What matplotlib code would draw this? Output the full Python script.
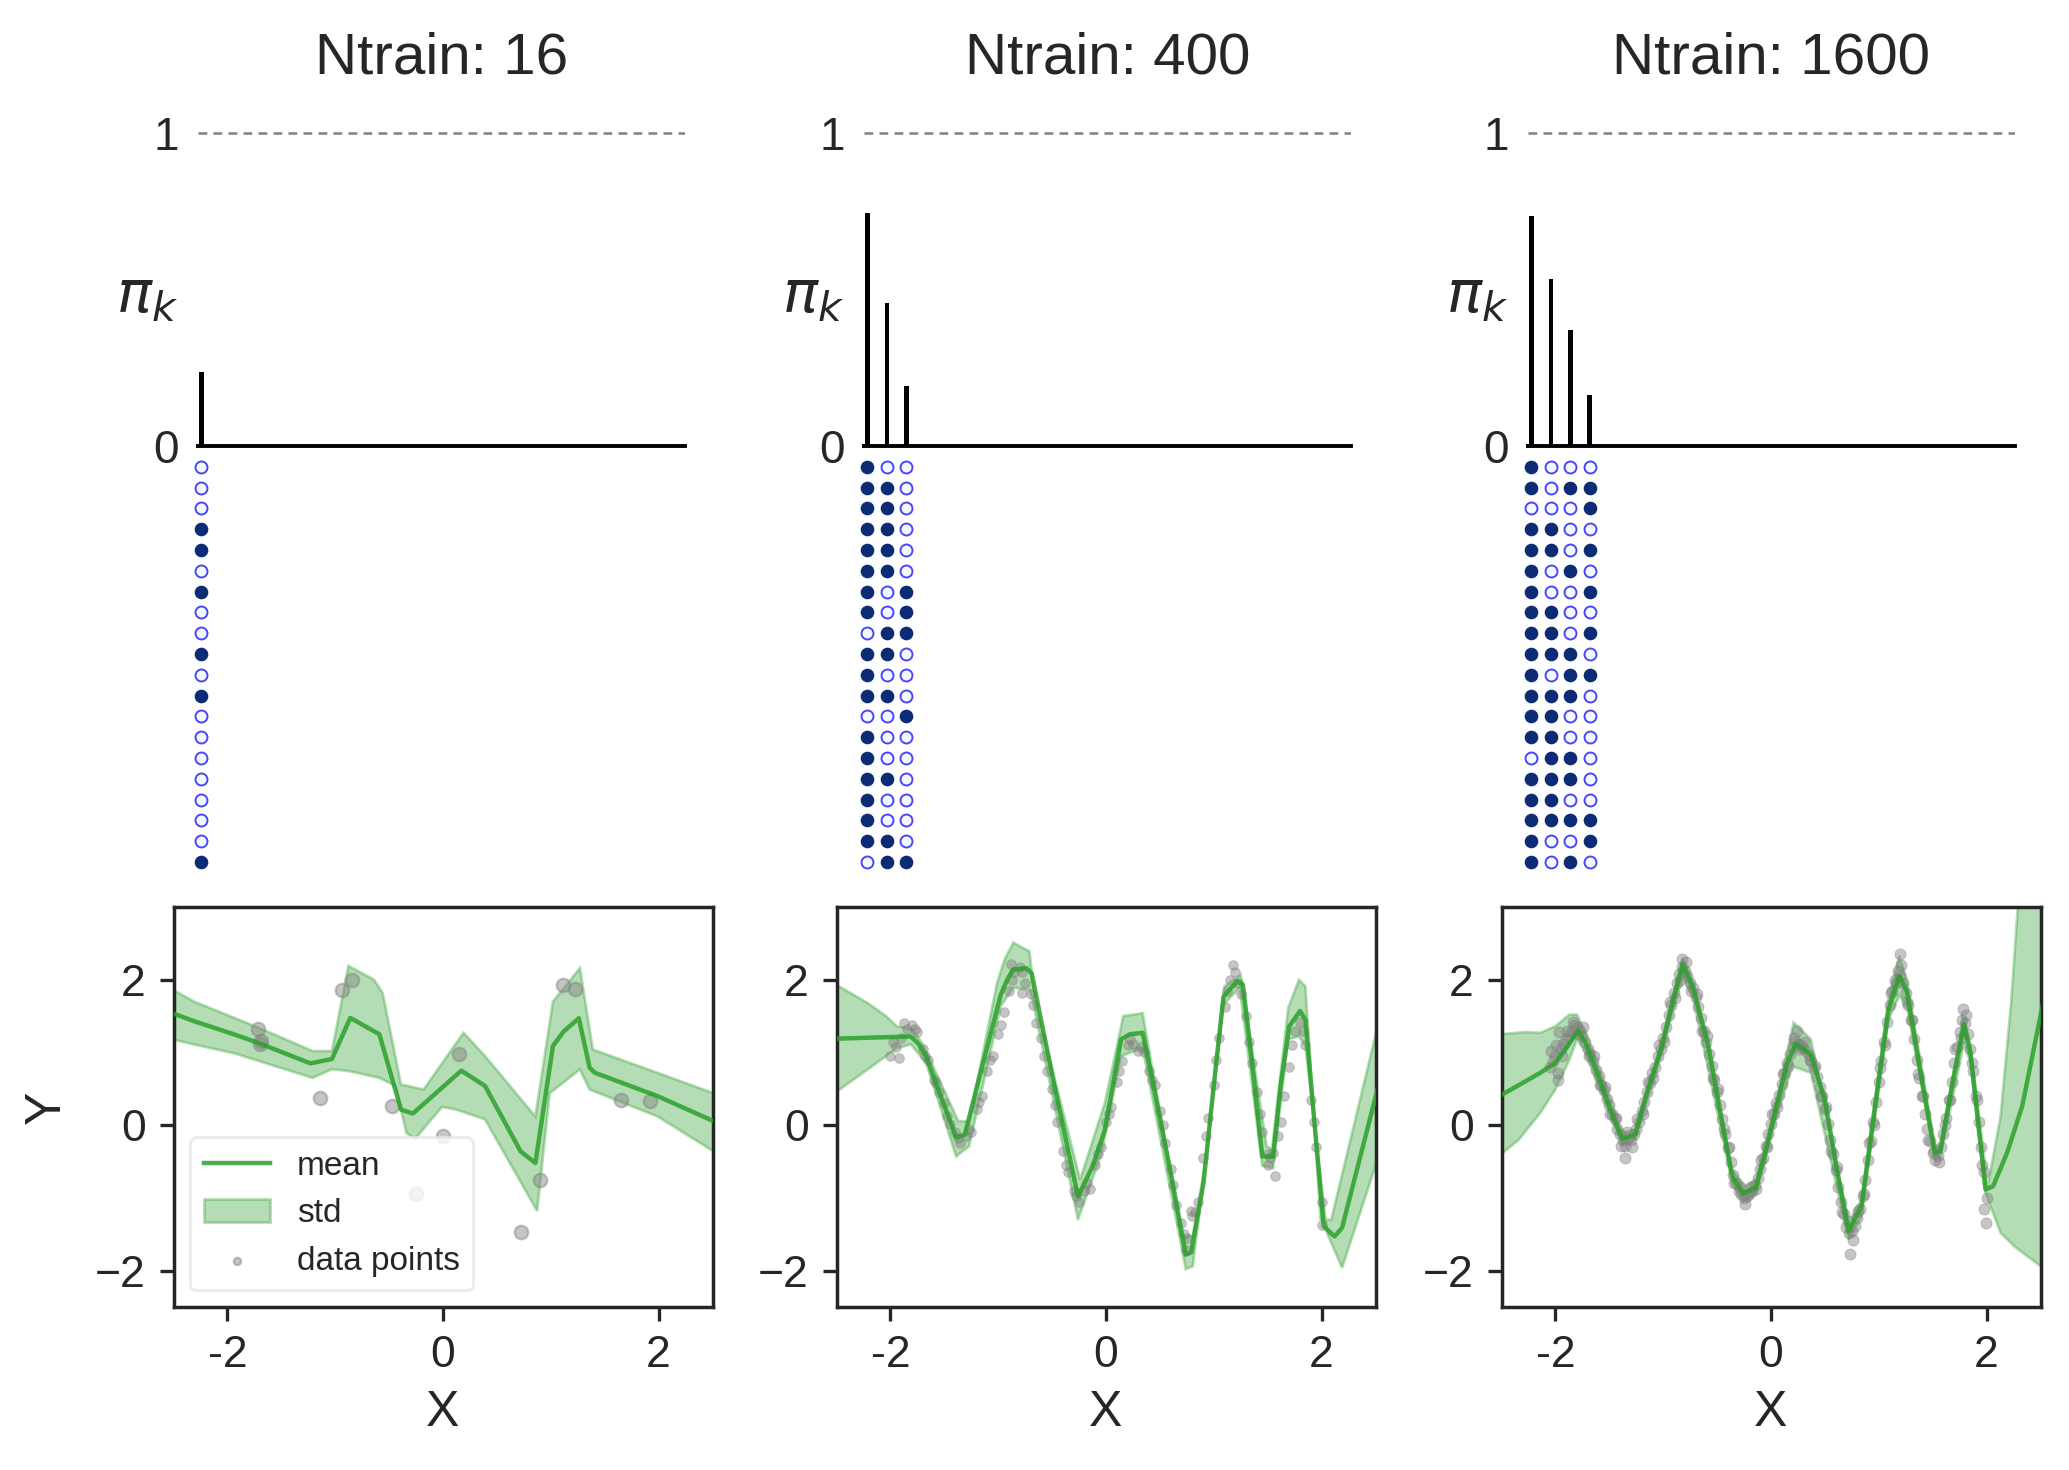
import matplotlib.pyplot as plt
import numpy as np

plt.rcParams['font.family'] = ['Liberation Sans', 'DejaVu Sans']
plt.rcParams['mathtext.fontset'] = 'dejavusans'
plt.rcParams['text.color'] = '#262626'
plt.rcParams['axes.labelcolor'] = '#262626'
plt.rcParams['xtick.color'] = '#262626'
plt.rcParams['ytick.color'] = '#262626'

# ---- data ----
titles = ['Ntrain: 16', 'Ntrain: 400', 'Ntrain: 1600']

# mixture weights pi_k
pi_16 = [0.234]
pi_400 = [0.742, 0.456, 0.191]
pi_1600 = [0.734, 0.534, 0.370, 0.162]

# component activity per row (1 = filled dot)
act_16 = ['0', '0', '0', '1', '1', '0', '1', '0', '0', '1',
          '0', '1', '0', '0', '0', '0', '0', '0', '0', '1']
act_400 = ['100', '110', '110', '110', '110', '110', '101', '101', '011', '110',
           '100', '110', '001', '100', '100', '110', '100', '100', '110', '011']
act_1600 = ['1000', '1011', '0001', '1100', '1101', '1010', '1001', '1100', '1101', '1110',
            '1011', '1110', '1100', '1100', '0110', '1110', '1100', '1111', '1001', '1010']

# Ntrain 16
p1_mean_x = [-2.51, -2.31, -1.94, -1.71, -1.23, -1.03, -0.86, -0.59, -0.39, -0.28, 0.17,
             0.39, 0.72, 0.857, 1.02, 1.12, 1.26, 1.36, 1.41, 1.99, 2.51]
p1_mean_y = [1.54, 1.43, 1.25, 1.13, 0.85, 0.91, 1.475, 1.25, 0.215, 0.16, 0.75,
             0.54, -0.36, -0.52, 1.09, 1.29, 1.47, 0.79, 0.72, 0.40, 0.055]
p1_up_x = [-2.51, -2.31, -1.71, -1.21, -1.03, -0.877, -0.64, -0.56, -0.39, -0.18, 0.19,
           0.39, 0.857, 1.02, 1.27, 1.39, 1.99, 2.51]
p1_up_y = [1.865, 1.70, 1.34, 1.02, 1.02, 2.19, 2.0, 1.82, 0.56, 0.49, 1.27,
           0.95, 0.12, 1.70, 2.16, 1.04, 0.72, 0.44]
p1_lo_x = [-2.51, -2.31, -1.94, -1.21, -1.03, -0.86, -0.59, -0.44, -0.34, -0.26, -0.01,
           0.12, 0.39, 0.873, 0.99, 1.27, 1.36, 1.99, 2.51]
p1_lo_y = [1.18, 1.11, 0.99, 0.65, 0.77, 0.74, 0.65, 0.54, -0.105, -0.19, 0.25,
           0.215, 0.08, -1.18, 0.44, 0.765, 0.49, 0.12, -0.36]
p1_pts_x = [-1.72, -1.70, -1.69, -1.143, -0.937, -0.843, -0.477, -0.253, 0.0, 0.15,
            0.723, 0.897, 1.117, 1.223, 1.647, 1.923]
p1_pts_y = [1.32, 1.12, 1.16, 0.367, 1.856, 2.0, 0.27, -0.953, -0.142, 0.985,
            -1.466, -0.747, 1.934, 1.874, 0.353, 0.339]

# Ntrain 400
p2_mean_x = [-2.49, -1.81, -1.74, -1.67, -1.52, -1.39, -1.31, -1.15, -0.975, -0.91, -0.86,
             -0.74, -0.69, -0.48, -0.26, -0.12, -0.01, 0.14, 0.22, 0.34, 0.42, 0.60,
             0.74, 0.79, 0.905, 1.00, 1.09, 1.22, 1.27, 1.36, 1.45, 1.55, 1.62, 1.70,
             1.80, 1.85, 1.93, 2.02, 2.12, 2.19, 2.52]
p2_mean_y = [1.19, 1.22, 1.12, 0.95, 0.35, -0.17, -0.13, 0.80, 1.80, 2.02, 2.14,
             2.16, 2.09, 0.55, -0.98, -0.55, -0.06, 1.18, 1.25, 1.27, 0.70, -0.65,
             -1.78, -1.75, -0.79, 0.55, 1.77, 1.98, 1.93, 0.80, -0.43, -0.43, 0.55, 1.36,
             1.57, 1.45, 0.10, -1.39, -1.53, -1.41, 0.50]
p2_up_x = [-2.49, -2.21, -2.04, -1.94, -1.79, -1.69, -1.37, -1.27, -1.01, -0.94, -0.86,
           -0.71, -0.66, -0.24, -0.01, 0.16, 0.34, 0.705, 0.805, 0.92, 1.10, 1.25, 1.49,
           1.54, 1.69, 1.79, 1.85, 1.99, 2.09, 2.52]
p2_up_y = [1.92, 1.68, 1.50, 1.36, 1.31, 1.09, 0.055, 0.055, 1.96, 2.28, 2.51,
           2.39, 1.73, -0.75, 0.31, 1.50, 1.54, -1.53, -1.53, -0.52, 1.91, 2.07, -0.29,
           -0.33, 1.61, 2.0, 1.91, -1.30, -1.30, 1.36]
p2_lo_x = [-2.49, -2.17, -1.94, -1.81, -1.67, -1.39, -1.27, -0.975, -0.86, -0.71, -0.675,
           -0.26, -0.04, 0.14, 0.34, 0.74, 0.805, 0.89, 1.09, 1.24, 1.45, 1.55, 1.69,
           1.79, 1.85, 2.05, 2.19, 2.52]
p2_lo_y = [0.47, 0.81, 1.06, 1.11, 0.86, -0.43, -0.29, 1.64, 1.89, 1.86, 1.68,
           -1.30, -0.38, 0.95, 1.06, -1.98, -1.94, -0.93, 1.66, 1.89, -0.56, -0.59, 1.18,
           1.22, 1.09, -1.48, -1.96, -0.47]
p2_pts_x = [-2.00, -1.95, -1.90, -1.85, -1.80, -1.75, -1.70, -1.65, -1.60, -1.55,
            -1.50, -1.45, -1.40, -1.35, -1.30, -1.25, -1.20, -1.15, -1.10, -1.05,
            -1.00, -0.95, -0.90, -0.85, -0.80, -0.75, -0.70, -0.65, -0.60, -0.55,
            -0.50, -0.45, -0.40, -0.35, -0.30, -0.25, -0.20, -0.15, -0.10, -0.05,
            0.00, 0.05, 0.10, 0.15, 0.20, 0.25, 0.30, 0.35, 0.40, 0.45,
            0.50, 0.55, 0.60, 0.65, 0.70, 0.75, 0.80, 0.85, 0.90, 0.95,
            1.00, 1.05, 1.10, 1.15, 1.20, 1.25, 1.30, 1.35, 1.40, 1.45,
            1.50, 1.55, 1.60, 1.65, 1.70, 1.75, 1.80, 1.85, 1.90, 1.95,
            2.00, 1.57, 2.00, 0.79, -1.92, -0.78, 0.74, 1.18, -0.88, 1.50,
            -1.975, -1.875, -1.775, -1.675, -1.575, -1.475, -1.375, -1.275, -1.175, -1.075,
            -0.975, -0.875, -0.775, -0.675, -0.575, -0.475, -0.375, -0.275, -0.175, -0.075,
            0.025, 0.125, 0.225, 0.325, 0.425, 0.525, 0.625, 0.725, 0.825, 0.925,
            1.025, 1.125, 1.225, 1.325, 1.425, 1.525, 1.625, 1.725, 1.825, 1.925]
p2_pts_y = [0.95, 1.08, 1.20, 1.32, 1.38, 1.28, 1.05, 0.90, 0.62, 0.45,
            0.30, 0.02, -0.10, -0.25, -0.15, -0.10, 0.22, 0.40, 0.75, 0.95,
            1.25, 1.55, 1.85, 2.10, 2.18, 1.95, 1.80, 1.40, 1.20, 0.75,
            0.50, 0.05, -0.35, -0.65, -0.90, -1.05, -0.90, -0.88, -0.55, -0.30,
            0.05, 0.25, 0.60, 0.88, 1.10, 1.12, 1.02, 1.00, 0.75, 0.55,
            0.20, -0.25, -0.60, -1.10, -1.35, -1.55, -1.25, -1.05, -0.45, 0.10,
            0.55, 1.20, 1.62, 2.00, 2.10, 1.80, 1.50, 0.85, 0.45, -0.10,
            -0.40, -0.38, -0.15, 0.40, 0.80, 1.30, 1.42, 1.10, 0.35, -0.30,
            -1.05, -0.70, -1.37, -1.18, 0.92, 1.82, -1.72, 2.20, 2.22, -0.55,
            1.15, 1.40, 1.32, 0.95, 0.58, 0.12, -0.18, -0.05, 0.32, 0.90,
            1.38, 2.00, 2.10, 1.65, 0.95, 0.28, -0.55, -0.98, -0.80, -0.40,
            0.15, 0.75, 1.18, 1.08, 0.62, 0.00, -0.82, -1.50, -1.20, -0.15,
            0.90, 1.85, 1.95, 1.15, 0.15, -0.45, 0.05, 1.10, 1.30, 0.05]

# Ntrain 1600
p3_mean_x = [-2.52, -2.40, -2.27, -2.14, -2.00, -1.90, -1.79, -1.72, -1.60, -1.50, -1.38,
             -1.26, -1.15, -1.02, -0.92, -0.82, -0.72, -0.58, -0.46, -0.36, -0.26, -0.14,
             -0.04, 0.06, 0.15, 0.23, 0.37, 0.50, 0.61, 0.72, 0.84, 0.96, 1.09, 1.19,
             1.26, 1.39, 1.52, 1.57, 1.68, 1.79, 1.85, 1.99, 2.06, 2.19, 2.33, 2.52]
p3_mean_y = [0.40, 0.50, 0.61, 0.72, 0.86, 1.06, 1.30, 1.13, 0.67, 0.25, -0.19,
             -0.13, 0.45, 1.04, 1.65, 2.21, 1.87, 1.09, 0.10, -0.70, -0.94, -0.86,
             -0.30, 0.31, 0.85, 1.12, 0.97, 0.35, -0.60, -1.46, -1.11, 0.20, 1.59, 2.06,
             1.84, 0.70, -0.38, -0.36, 0.55, 1.39, 1.0, -0.885, -0.84, -0.38, 0.26, 1.65]
p3_up_x = [-2.52, -2.27, -2.14, -2.00, -1.87, -1.80, -1.72, -1.60, -1.38, -1.26, -1.02,
           -0.82, -0.72, -0.36, -0.24, -0.14, 0.06, 0.21, 0.37, 0.72, 0.84, 1.09,
           1.19, 1.26, 1.52, 1.57, 1.79, 1.85, 2.01, 2.13, 2.23, 2.29, 2.52]
p3_up_y = [1.25, 1.28, 1.27, 1.36, 1.52, 1.52, 1.27, 0.81, -0.105, -0.06, 1.13,
           2.30, 1.98, -0.61, -0.84, -0.75, 0.40, 1.41, 1.18, -1.34, -1.02, 1.73,
           2.33, 2.0, -0.29, -0.27, 1.50, 1.09, -0.84, 0.12, 1.73, 3.01, 5.4]
p3_lo_x = [-2.52, -2.34, -2.14, -2.00, -1.87, -1.80, -1.72, -1.60, -1.38, -1.26, -1.02,
           -0.82, -0.72, -0.36, -0.26, -0.14, 0.06, 0.20, 0.37, 0.72, 0.84, 1.09,
           1.19, 1.26, 1.52, 1.57, 1.79, 1.85, 1.99, 2.13, 2.26, 2.52]
p3_lo_y = [-0.42, -0.20, 0.17, 0.49, 0.90, 1.18, 1.0, 0.54, -0.27, -0.20, 0.95,
           2.07, 1.73, -0.79, -1.05, -0.95, 0.17, 0.81, 0.72, -1.57, -1.25, 1.45,
           1.78, 1.64, -0.47, -0.45, 1.13, 0.86, -0.93, -1.48, -1.67, -1.96]
p3_pts_x = [-2.050, -2.025, -2.000, -1.975, -1.950, -1.925, -1.900, -1.875, -1.850, -1.825,
            -1.800, -1.775, -1.750, -1.725, -1.700, -1.675, -1.650, -1.625, -1.600, -1.575,
            -1.550, -1.525, -1.500, -1.475, -1.450, -1.425, -1.400, -1.375, -1.350, -1.325,
            -1.300, -1.275, -1.250, -1.225, -1.200, -1.175, -1.150, -1.125, -1.100, -1.075,
            -1.050, -1.025, -1.000, -0.975, -0.950, -0.925, -0.900, -0.875, -0.850, -0.825,
            -0.800, -0.775, -0.750, -0.725, -0.700, -0.675, -0.650, -0.625, -0.600, -0.575,
            -0.550, -0.525, -0.500, -0.475, -0.450, -0.425, -0.400, -0.375, -0.350, -0.325,
            -0.300, -0.275, -0.250, -0.225, -0.200, -0.175, -0.150, -0.125, -0.100, -0.075,
            -0.050, -0.025, 0.000, 0.025, 0.050, 0.075, 0.100, 0.125, 0.150, 0.175,
            0.200, 0.225, 0.250, 0.275, 0.300, 0.325, 0.350, 0.375, 0.400, 0.425,
            0.450, 0.475, 0.500, 0.525, 0.550, 0.575, 0.600, 0.625, 0.650, 0.675,
            0.700, 0.725, 0.750, 0.775, 0.800, 0.825, 0.850, 0.875, 0.900, 0.925,
            0.950, 0.975, 1.000, 1.025, 1.050, 1.075, 1.100, 1.125, 1.150, 1.175,
            1.200, 1.225, 1.250, 1.275, 1.300, 1.325, 1.350, 1.375, 1.400, 1.425,
            1.450, 1.475, 1.500, 1.525, 1.550, 1.575, 1.600, 1.625, 1.650, 1.675,
            1.700, 1.725, 1.750, 1.775, 1.800, 1.825, 1.850, 1.875, 1.900, 1.925,
            1.950, 1.975, 2.000,
            0.73, -1.35, 1.99, 1.20, -0.83, -1.97, -1.98, 0.24, 1.78,
            -2.04, -1.99, -1.94, -1.89, -1.84, -1.79, -1.74, -1.69, -1.64, -1.59,
            -1.54, -1.49, -1.44, -1.39, -1.34, -1.29, -1.24, -1.19, -1.14, -1.09,
            -1.04, -0.99, -0.94, -0.89, -0.84, -0.79, -0.74, -0.69, -0.64, -0.59,
            -0.54, -0.49, -0.44, -0.39, -0.34, -0.29, -0.24, -0.19, -0.14, -0.09,
            -0.04, 0.01, 0.06, 0.11, 0.16, 0.21, 0.26, 0.31, 0.36, 0.41,
            0.46, 0.51, 0.56, 0.61, 0.66, 0.71, 0.76, 0.81, 0.86, 0.91,
            0.96, 1.01, 1.06, 1.11, 1.16, 1.21, 1.26, 1.31, 1.36, 1.41,
            1.46, 1.51, 1.56, 1.61, 1.66, 1.71, 1.76, 1.81, 1.86, 1.91,
            1.96, 1.98]
p3_pts_y = [0.80, 0.88, 0.95, 0.72, 1.05, 1.12, 1.18, 1.22, 1.30, 1.38,
            1.35, 1.30, 1.22, 1.15, 1.05, 0.98, 0.88, 0.76, 0.68, 0.55,
            0.48, 0.36, 0.28, 0.15, 0.08, -0.05, -0.12, -0.20, -0.28, -0.18,
            -0.20, -0.12, -0.05, 0.05, 0.20, 0.32, 0.46, 0.58, 0.72, 0.80,
            0.95, 1.05, 1.20, 1.35, 1.52, 1.65, 1.82, 1.95, 2.08, 2.18,
            2.12, 2.05, 1.96, 1.88, 1.76, 1.62, 1.48, 1.30, 1.15, 0.98,
            0.82, 0.62, 0.45, 0.28, 0.08, -0.12, -0.32, -0.50, -0.68, -0.80,
            -0.90, -0.95, -1.00, -0.98, -0.94, -0.90, -0.82, -0.72, -0.60, -0.45,
            -0.28, -0.12, 0.02, 0.15, 0.30, 0.42, 0.56, 0.72, 0.86, 0.98,
            1.08, 1.15, 1.12, 1.10, 1.06, 1.02, 0.96, 0.88, 0.78, 0.66,
            0.52, 0.40, 0.22, 0.02, -0.20, -0.40, -0.62, -0.85, -1.05, -1.22,
            -1.40, -1.48, -1.45, -1.38, -1.28, -1.15, -0.98, -0.75, -0.48, -0.22,
            0.05, 0.32, 0.60, 0.88, 1.15, 1.42, 1.65, 1.85, 2.00, 2.12,
            2.05, 1.95, 1.82, 1.65, 1.45, 1.18, 0.90, 0.65, 0.40, 0.15,
            -0.05, -0.22, -0.38, -0.48, -0.42, -0.30, -0.12, 0.10, 0.35, 0.60,
            0.85, 1.08, 1.28, 1.45, 1.40, 1.25, 1.05, 0.75, 0.40, 0.05,
            -0.30, -0.65, -1.00,
            -1.77, -0.45, -1.34, 2.35, 2.28, 1.28, 0.62, 1.30, 1.60,
            1.02, 1.10, 0.95, 1.30, 1.42, 1.25, 1.35, 0.95, 0.95, 0.55,
            0.52, 0.15, 0.10, -0.28, -0.10, -0.30, 0.08, 0.15, 0.60, 0.65,
            1.10, 1.15, 1.70, 1.75, 2.00, 2.25, 1.85, 1.80, 1.30, 1.22,
            0.65, 0.50, -0.05, -0.30, -0.80, -0.85, -1.08, -0.85, -0.88, -0.48,
            -0.30, 0.15, 0.25, 0.70, 0.82, 1.20, 1.05, 1.15, 0.90, 0.82,
            0.40, 0.25, -0.35, -0.58, -1.20, -1.32, -1.58, -1.18, -0.95, -0.25,
            0.00, 0.78, 1.10, 1.82, 1.95, 2.20, 1.70, 1.45, 0.70, 0.40,
            -0.20, -0.35, -0.50, 0.00, 0.35, 1.05, 1.20, 1.52, 0.85, 0.35,
            -0.55, -1.15]

weights = [pi_16, pi_400, pi_1600]
activity = [act_16, act_400, act_1600]
curves = [
    (p1_mean_x, p1_mean_y, p1_up_x, p1_up_y, p1_lo_x, p1_lo_y, p1_pts_x, p1_pts_y),
    (p2_mean_x, p2_mean_y, p2_up_x, p2_up_y, p2_lo_x, p2_lo_y, p2_pts_x, p2_pts_y),
    (p3_mean_x, p3_mean_y, p3_up_x, p3_up_y, p3_lo_x, p3_lo_y, p3_pts_x, p3_pts_y),
]
pt_sizes = [24, 12, 16]
pt_edges = [0.8, 0.3, 0.3]

# ---- layout (pixel boxes on a 2069 x 1470 canvas) ----
W, H = 2069, 1470
fig = plt.figure(figsize=(W / 200, H / 200), dpi=200)


def box(left, top, right, bottom):
    return [left / W, 1 - bottom / H, (right - left) / W, (bottom - top) / H]


bar_left = [198, 864, 1528]
low_left = [173.5, 836.5, 1501.5]
dark = '#262626'
green = '#2ca02c'

for i in range(3):
    # mixture weights
    ax = fig.add_axes(box(bar_left[i], 101.4, bar_left[i] + 487, 445.7))
    w = weights[i]
    ax.bar(np.arange(len(w)), w, width=0.24, color='black')
    ax.axhline(1, color='gray', lw=0.9, ls=(0, (3.5, 2.5)))
    ax.axhline(0, color='black', lw=1.4, clip_on=False)
    ax.set_xlim(-0.18, 24.9)
    ax.set_ylim(0, 1.1)
    for s in ax.spines.values():
        s.set_visible(False)
    ax.set_xticks([])
    ax.set_yticks([0, 1], ['0', '1'])
    ax.tick_params(axis='y', length=0, pad=7, labelsize=16.5)
    ax.set_ylabel(r'$\pi_k$', fontsize=21, rotation=0, va='center', ha='center')
    ax.yaxis.set_label_coords(-0.105, 0.43)
    ax.set_title(titles[i], fontsize=21, pad=10, color=dark)

    # active components
    axd = fig.add_axes(box(bar_left[i], 456.3, bar_left[i] + 487, 872.3))
    rows = activity[i]
    for r, row in enumerate(rows):
        for k, c in enumerate(row):
            if c == '1':
                axd.plot(k, r, 'o', ms=4.3, mfc='#0b2c74', mec='#0b2c74', mew=0.6,
                         clip_on=False)
            else:
                axd.plot(k, r, 'o', ms=4.3, mfc='#f5f8ff', mec='#4646ff', mew=0.7,
                         clip_on=False)
    axd.set_xlim(-0.18, 24.9)
    axd.set_ylim(len(rows) - 0.5, -0.5)
    axd.axis('off')

    # predictive fit
    mx, my, ux, uy, lx, ly, px, py = curves[i]
    axb = fig.add_axes(box(low_left[i], 907, low_left[i] + 539, 1307))
    band = axb.fill(np.r_[ux, lx[::-1]], np.r_[uy, ly[::-1]], color=green,
                    alpha=0.35, lw=1.0, label='std', zorder=1)[0]
    pts = axb.scatter(px, py, s=pt_sizes[i], color='gray', alpha=0.45,
                      lw=pt_edges[i], label='data points', zorder=2)
    line, = axb.plot(mx, my, color=green, lw=1.6, alpha=0.85, label='mean', zorder=3)
    axb.set_xlim(-2.5, 2.5)
    axb.set_ylim(-2.5, 3.0)
    axb.set_xticks([-2, 0, 2], ['-2', '0', '2'])
    axb.set_yticks([-2, 0, 2])
    axb.tick_params(direction='out', length=5, width=1.2, labelsize=16, pad=5)
    for s in axb.spines.values():
        s.set_color(dark)
        s.set_linewidth(1.25)
    axb.set_xlabel('X', fontsize=18, labelpad=5)
    if i == 0:
        axb.set_ylabel('Y', fontsize=18, va='center')
        axb.yaxis.set_label_coords(-0.235, 0.5)
        leg = axb.legend([line, band, pts], ['mean', 'std', 'data points'],
                         loc='lower left', fontsize=12, markerscale=0.55,
                         fancybox=True, edgecolor='#e6e6e6', framealpha=0.8)

fig.savefig('out.png', dpi=200)
